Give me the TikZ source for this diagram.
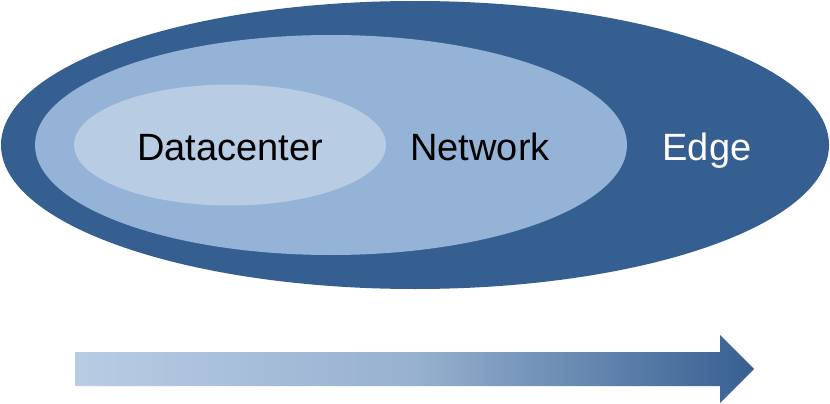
\documentclass[tikz,border=0pt]{standalone}
\usepackage{fontspec}
\setmainfont{Liberation Sans}
\usetikzlibrary{shapes.geometric}
\definecolor{darkblue}{HTML}{365F91}
\definecolor{midblue}{HTML}{95B3D7}
\definecolor{lightblue}{HTML}{B8CCE4}
\begin{document}
\begin{tikzpicture}[x=1pt,y=-1pt,
  zone/.style={ellipse, draw=none, inner sep=0pt},
  label/.style={font=\fontsize{38}{40}\selectfont, inner sep=0pt, anchor=base}]
\useasboundingbox[fill=white] (0,0) rectangle (830,404);
\node[zone, fill=darkblue, minimum width=828pt, minimum height=288pt] (edge) at (415,145) {};
\node[zone, fill=midblue, minimum width=592pt, minimum height=220pt] (network) at (331,145) {};
\node[zone, fill=lightblue, minimum width=312pt, minimum height=121pt] (dc) at (230,145) {};
\node[label, text=black] (tdc) at (230,160) {Datacenter};
\node[label, text=black] (tnet) at (480,160) {Network};
\node[label, text=white] (tedge) at (707,160) {Edge};
\shade[left color=lightblue, right color=darkblue, middle color=lightblue!75!darkblue]
  (75,352) -- (720,352) -- (720,335) -- (754,369) -- (720,403) -- (720,386) -- (75,386) -- cycle;
\end{tikzpicture}
\end{document}
